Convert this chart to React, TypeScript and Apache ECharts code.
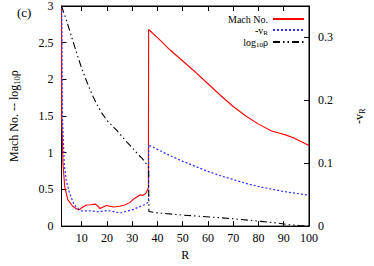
import React, { useEffect, useRef } from "react";
import * as echarts from "echarts";

// Mach number (left axis)
const machR = [2.0, 2.1, 2.6, 3.3, 4.5, 6.4, 8.2, 9.0, 10.0, 11.8, 13.5, 15.5, 17.3, 19.7, 22.7, 25.0, 27.0, 29.0, 30.6, 33.0, 34.3, 35.5, 36.1, 36.4, 36.5, 40, 45, 50, 55, 60, 65, 70, 75, 80, 85, 88, 91, 94, 97, 100];
const machVal = [3.3, 1.5, 0.84, 0.53, 0.36, 0.27, 0.23, 0.22, 0.25, 0.287, 0.29, 0.30, 0.24, 0.28, 0.26, 0.27, 0.287, 0.32, 0.37, 0.425, 0.42, 0.45, 0.5, 0.52, 2.68, 2.57, 2.40, 2.25, 2.10, 1.94, 1.78, 1.63, 1.50, 1.39, 1.30, 1.27, 1.24, 1.20, 1.15, 1.10];

// -v_R (right axis)
const vrR = [2.0, 2.4, 3.1, 3.9, 5.2, 7.0, 8.8, 10.0, 12.9, 16.7, 20.3, 25.2, 30.0, 34.8, 36.1, 36.45, 36.55, 40, 45, 50, 55, 60, 65, 70, 75, 80, 85, 90, 95, 100];
const vrVal = [0.38, 0.17, 0.098, 0.072, 0.052, 0.034, 0.027, 0.024, 0.0244, 0.0228, 0.025, 0.0207, 0.026, 0.034, 0.037, 0.04, 0.129, 0.122, 0.112, 0.103, 0.095, 0.087, 0.080, 0.074, 0.068, 0.063, 0.059, 0.055, 0.052, 0.049];

// log10 rho (left axis)
const rhoR = [2, 4, 6, 8, 10, 12, 14, 16, 18, 20, 22, 24, 26, 28, 30, 32, 34, 36, 36.5, 36.6, 40, 50, 62.7, 70, 81, 88, 92, 96, 100];
const rhoVal = [3.0, 2.8, 2.58, 2.36, 2.15, 1.97, 1.8, 1.66, 1.54, 1.44, 1.37, 1.3, 1.22, 1.14, 1.07, 0.99, 0.92, 0.83, 0.8, 0.2, 0.18, 0.15, 0.12, 0.1, 0.065, 0.04, 0.02, 0.008, 0.0];

const xTicks = [10, 20, 30, 40, 50, 60, 70, 80, 90, 100];

const pairs = (xs: number[], ys: number[]) => xs.map((x, i) => [x, ys[i]]);

const FONT = "Liberation Serif";

const richSet = (size: number, sub: number, pad: number) => ({
  a: { fontFamily: FONT, fontSize: size, color: "#000" },
  s: { fontFamily: FONT, fontSize: sub, color: "#000", padding: [pad, 0, 0, 0] },
});

export default function App() {
  const ref = useRef<HTMLDivElement>(null);
  useEffect(() => {
    if (!ref.current) return;
    const chart = echarts.init(ref.current, undefined, { renderer: "svg" });
    const tickStyle = { inside: true, length: 5, lineStyle: { color: "#000", width: 1 } };
    const lineAx = { show: true, onZero: false, lineStyle: { color: "#000", width: 1 } };
    const numFmt = (v: number) => "{a|" + String(Math.round(v * 10) / 10) + "}";
    const lbl = { color: "#000", fontFamily: FONT, fontSize: 12, rich: richSet(12, 8.5, 6), formatter: numFmt };
    chart.setOption({
      animation: false,
      backgroundColor: "#fff",
      textStyle: { fontFamily: FONT, color: "#000" },
      grid: { left: 53, right: 52, top: 4, bottom: 32, show: true, borderColor: "#000", borderWidth: 1, backgroundColor: "transparent" },
      graphic: [
        { type: "text", left: 17, top: 6, style: { text: "(c)", font: `13px '${FONT}'`, fill: "#000" } },
      ],
      legend: {
        orient: "vertical",
        right: 64,
        top: 9,
        align: "right",
        itemWidth: 31,
        itemHeight: 9,
        itemGap: 1,
        itemStyle: { opacity: 0, borderWidth: 0 },
        textStyle: {
          color: "#000",
          fontFamily: FONT,
          fontSize: 10,
          rich: richSet(10, 7, 5),
        },
        formatter: (name: string) => {
          if (name === "-vR") return "{a|-v}{s|R}";
          if (name === "log10ρ") return "{a|log}{s|10}{a|ρ}";
          return "{a|" + name + "}";
        },
        data: ["Mach No.", "-vR", "log10ρ"],
      },
      xAxis: [
        {
          type: "value",
          min: 2,
          max: 100,
          position: "bottom",
          name: "{a|R}",
          nameLocation: "middle",
          nameGap: 20,
          nameTextStyle: { fontFamily: FONT, rich: richSet(12, 8.5, 6) },
          axisLine: lineAx,
          axisTick: { ...tickStyle, customValues: xTicks },
          axisLabel: { ...lbl, margin: 6, customValues: xTicks },
          splitLine: { show: false },
        },
        {
          type: "value",
          min: 2,
          max: 100,
          position: "top",
          axisLine: lineAx,
          axisTick: { ...tickStyle, customValues: xTicks },
          axisLabel: { show: false, customValues: xTicks },
          splitLine: { show: false },
        },
      ],
      yAxis: [
        {
          type: "value",
          min: 0,
          max: 3,
          interval: 0.5,
          position: "left",
          name: "{a|Mach No. -- log}{s|10}{a|ρ}",
          nameLocation: "middle",
          nameRotate: 90,
          nameGap: 40,
          nameTextStyle: { fontFamily: FONT, rich: richSet(12, 8.5, 6) },
          axisLine: lineAx,
          axisTick: tickStyle,
          axisLabel: { ...lbl, margin: 8 },
          splitLine: { show: false },
        },
        {
          type: "value",
          min: 0,
          max: 0.35,
          interval: 0.1,
          position: "right",
          name: "{a|-v}{s|R}",
          nameLocation: "middle",
          nameRotate: 90,
          nameGap: 42,
          nameTextStyle: { fontFamily: FONT, rich: richSet(12, 8.5, 6) },
          axisLine: lineAx,
          axisTick: tickStyle,
          axisLabel: { ...lbl, margin: 9, showMaxLabel: false },
          splitLine: { show: false },
        },
      ],
      series: [
        {
          name: "Mach No.",
          type: "line",
          xAxisIndex: 0,
          yAxisIndex: 0,
          data: pairs(machR, machVal),
          symbol: "none",
          clip: true,
          lineStyle: { color: "#ff0000", width: 1.1 },
          itemStyle: { color: "#ff0000" },
        },
        {
          name: "-vR",
          type: "line",
          xAxisIndex: 0,
          yAxisIndex: 1,
          data: pairs(vrR, vrVal),
          symbol: "none",
          clip: true,
          lineStyle: { color: "#2b2bff", width: 1.2, type: [2, 2] },
          itemStyle: { color: "#2b2bff" },
        },
        {
          name: "log10ρ",
          type: "line",
          xAxisIndex: 0,
          yAxisIndex: 0,
          data: pairs(rhoR, rhoVal),
          symbol: "none",
          clip: true,
          lineStyle: { color: "#000", width: 1.1, type: [7, 3, 1.5, 3, 1.5, 3] },
          itemStyle: { color: "#000" },
        },
      ],
    });
    return () => chart.dispose();
  }, []);
  return <div ref={ref} style={{ position: "fixed", left: 0, top: 0, width: 374, height: 266 }} />;
}
